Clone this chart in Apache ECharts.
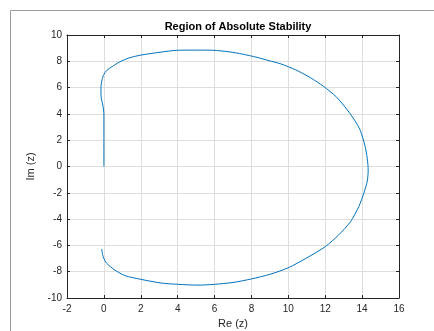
<!DOCTYPE html>
<html>
<head>
<meta charset="utf-8">
<script src="https://cdn.jsdelivr.net/npm/echarts@6/dist/echarts.min.js"></script>
<style>
  html, body { margin: 0; padding: 0; background: #fff; }
  #chart { width: 434px; height: 331px; }
</style>
</head>
<body>
<div id="chart"></div>
<script>
// boundary of the stability region
const reZ = [0, 0, 0, -0.05, -0.15, -0.16, -0.1, 0.0, 0.15, 0.45, 0.85, 1.35, 2.0, 3.1, 4.0, 5.0, 5.9, 6.8, 7.5, 8.3,
  8.95, 9.6, 10.4, 11.2, 11.9, 12.6, 13.2, 13.6, 13.9, 14.15, 14.28, 14.33, 14.28, 14.1, 13.82, 13.37, 12.73, 12.0, 11.0, 10.0,
  9.0, 8.0, 7.0, 6.0, 5.1, 4.0, 3.1, 2.0, 1.15, 0.6, 0.15, -0.04, -0.12];
const imZ = [0, 2, 4, 4.6, 5.3, 6.0, 6.6, 7.0, 7.3, 7.6, 7.95, 8.25, 8.47, 8.7, 8.84, 8.85, 8.84, 8.72, 8.55, 8.3,
  8.05, 7.8, 7.35, 6.75, 6.1, 5.3, 4.3, 3.5, 2.75, 1.6, 0.6, -0.3, -1.1, -2.0, -3.05, -4.2, -5.2, -6.1, -6.95, -7.7,
  -8.2, -8.55, -8.82, -8.96, -9.02, -8.96, -8.86, -8.58, -8.3, -7.88, -7.36, -6.86, -6.27];

const xRange = [-2, 16];
const yRange = [-10, 10];
const titleText = 'Region of Absolute Stability';

const axisColor = '#262626';
const font = 'Liberation Sans, Arial, Helvetica, sans-serif';

const chart = echarts.init(document.getElementById('chart'), null, { renderer: 'canvas' });

const baseAxis = (extra) => Object.assign({
  type: 'value',
  axisLine: { show: true, onZero: false, lineStyle: { color: axisColor, width: 1 } },
  axisTick: { show: true, inside: true, length: 3, lineStyle: { color: axisColor } },
  axisLabel: { show: false },
  splitLine: { show: false }
}, extra);

chart.setOption({
  animation: false,
  backgroundColor: '#fff',
  graphic: [{
    type: 'rect',
    left: 8, top: 8,
    shape: { width: 600, height: 500 },
    style: { fill: 'none', stroke: '#9a9a9a', lineWidth: 1 },
    silent: true
  }],
  title: {
    text: titleText,
    left: 233, top: 16,
    textAlign: 'center',
    textStyle: { fontFamily: font, fontSize: 11, fontWeight: 'bold', color: '#000' }
  },
  grid: { left: 67, right: 35, top: 35, bottom: 33, containLabel: false, outerBoundsMode: 'none' },
  xAxis: [
    baseAxis({
      position: 'bottom',
      min: xRange[0], max: xRange[1], interval: 2,
      name: 'Re (z)', nameLocation: 'middle', nameGap: 19,
      nameTextStyle: { fontFamily: font, fontSize: 11, color: axisColor },
      axisLabel: { show: true, fontFamily: font, fontSize: 10, color: axisColor, margin: 6 },
      splitLine: { show: true, lineStyle: { color: '#dedede', width: 1 } }
    }),
    baseAxis({ position: 'top', min: xRange[0], max: xRange[1], interval: 2 })
  ],
  yAxis: [
    baseAxis({
      position: 'left',
      min: yRange[0], max: yRange[1], interval: 2,
      name: 'Im (z)', nameLocation: 'middle', nameGap: 30,
      nameTextStyle: { fontFamily: font, fontSize: 11, color: axisColor },
      axisLabel: { show: true, fontFamily: font, fontSize: 10, color: axisColor, margin: 5 },
      splitLine: { show: true, lineStyle: { color: '#dedede', width: 1 } }
    }),
    baseAxis({ position: 'right', min: yRange[0], max: yRange[1], interval: 2 })
  ],
  series: [{
    type: 'line',
    data: reZ.map((x, i) => [x, imZ[i]]),
    showSymbol: false,
    smooth: 0.25,
    lineStyle: { color: '#0072BD', width: 1 },
    xAxisIndex: 0,
    yAxisIndex: 0
  }]
});
</script>
</body>
</html>
